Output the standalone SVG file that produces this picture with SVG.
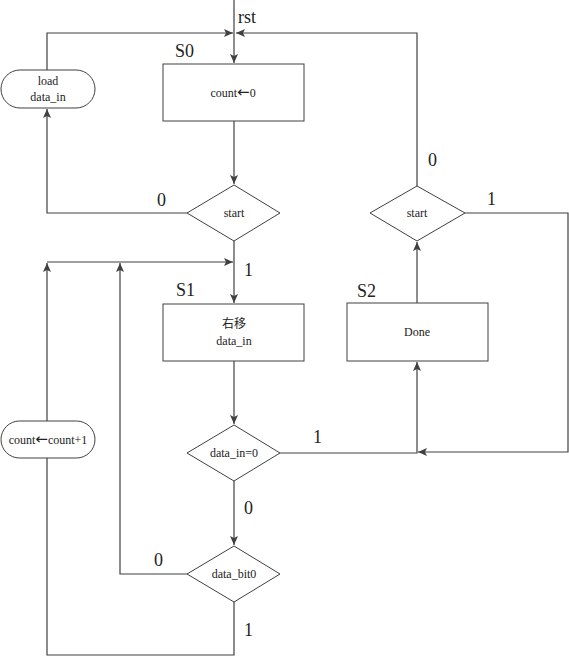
<svg xmlns="http://www.w3.org/2000/svg" width="569" height="656" viewBox="0 0 569 656">
<defs>
<marker id="ah" markerWidth="10" markerHeight="8" refX="9" refY="4" orient="auto" markerUnits="userSpaceOnUse">
<path d="M0,0 L9,4 L0,8 L2,4 Z" fill="#404040"/>
</marker>
</defs>
<style>
.n{fill:#fff;stroke:#404040;stroke-width:1}
.c{fill:none;stroke:#404040;stroke-width:1.2}
.t{font-size:12px;fill:#222;text-anchor:middle}
.l{font-size:18px;fill:#222}
.ar{font-size:15px}
</style>
<rect width="569" height="656" fill="#fff"/>
<g id="connectors">
<path class="c" d="M234,0 V63" marker-end="url(#ah)"/>
<path class="c" d="M47,70 V33 H233" marker-end="url(#ah)"/>
<path class="c" d="M417,186 V33 H236" marker-end="url(#ah)"/>
<path class="c" d="M234,121 V184" marker-end="url(#ah)"/>
<path class="c" d="M187,213 H47 V109" marker-end="url(#ah)"/>
<path class="c" d="M234,241 V303" marker-end="url(#ah)"/>
<path class="c" d="M47,262 H233" marker-end="url(#ah)"/>
<path class="c" d="M47,421 V263" marker-end="url(#ah)"/>
<path class="c" d="M187,574 H120 V263" marker-end="url(#ah)"/>
<path class="c" d="M234,361 V424" marker-end="url(#ah)"/>
<path class="c" d="M234,481 V545" marker-end="url(#ah)"/>
<path class="c" d="M234,602 V655 H47 V458"/>
<path class="c" d="M280,453 H417 V362" marker-end="url(#ah)"/>
<path class="c" d="M465,213 H568 V452 H418" marker-end="url(#ah)"/>
<path class="c" d="M417,303 V242" marker-end="url(#ah)"/>
</g>
<g font-family="'Liberation Serif', 'Times New Roman', 'DejaVu Serif', serif">
<g id="labels">
<text class="l" x="238" y="23">rst</text>
<text class="l" x="175" y="57">S0</text>
<text class="l" x="157" y="206">0</text>
<text class="l" x="244" y="276">1</text>
<text class="l" x="176" y="296">S1</text>
<text class="l" x="357" y="297">S2</text>
<text class="l" x="428" y="166">0</text>
<text class="l" x="487" y="205">1</text>
<text class="l" x="313" y="443">1</text>
<text class="l" x="244" y="514">0</text>
<text class="l" x="154" y="566">0</text>
<text class="l" x="244" y="636">1</text>
</g>
<g id="s0">
<rect class="n" x="163" y="64" width="141" height="57"/>
<text class="t" x="233" y="97">count<tspan class="ar" font-family="'DejaVu Sans', sans-serif">←</tspan>0</text>
</g>
<g id="load">
<rect class="n" x="1" y="70" width="94" height="38" rx="19"/>
<text class="t" x="48" y="85">load</text>
<text class="t" x="48" y="101">data_in</text>
</g>
<g id="start1">
<polygon class="n" points="234,185 280,213 234,241 187,213"/>
<text class="t" x="234" y="217">start</text>
</g>
<g id="s1">
<rect class="n" x="163" y="304" width="141" height="57"/>
<text class="t" x="234" y="328" font-family="'Noto Sans CJK SC', serif">右移</text>
<text class="t" x="234" y="345">data_in</text>
</g>
<g id="datain0">
<polygon class="n" points="234,425 280,453 234,481 187,453"/>
<text class="t" x="234" y="457">data_in=0</text>
</g>
<g id="databit0">
<polygon class="n" points="234,546 280,574 234,602 187,574"/>
<text class="t" x="234" y="578">data_bit0</text>
</g>
<g id="countinc">
<rect class="n" x="1" y="421" width="94" height="37" rx="18.5"/>
<text class="t" x="48" y="444">count<tspan class="ar" font-family="'DejaVu Sans', sans-serif">←</tspan>count+1</text>
</g>
<g id="s2">
<rect class="n" x="347" y="303" width="141" height="58"/>
<text class="t" x="417" y="336">Done</text>
</g>
<g id="start2">
<polygon class="n" points="417,186 465,213 417,241 370,213"/>
<text class="t" x="417" y="217">start</text>
</g>
</g>
</svg>
